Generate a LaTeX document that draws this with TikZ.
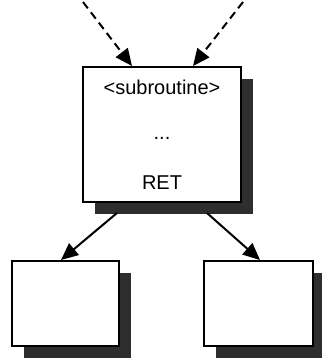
\documentclass[tikz,border=0pt]{standalone}
\usepackage{fontspec}
\setmainfont{Liberation Sans}
\usetikzlibrary{arrows.meta,shadows,calc}
\tikzset{
  box/.style={draw=black, line width=2pt, fill=white, inner sep=0pt,
    drop shadow={shadow xshift=12pt, shadow yshift=-12pt, fill=black!82, opacity=1}},
  lbl/.style={inner sep=0pt, font=\fontsize{20}{23}\selectfont},
  tip/.style={-{Triangle[length=17pt,width=15pt]}},
  call/.style={tip, line width=2pt, dash pattern=on 8pt off 5pt},
  ret/.style={tip, line width=2pt}
}
\begin{document}
\begin{tikzpicture}[x=1pt,y=-1pt]
\useasboundingbox (0,0) rectangle (321,361);
\node[box, minimum width=158pt, minimum height=135pt] (main) at (162,134.5) {};
\node[box, minimum width=107pt, minimum height=85pt] (left) at (65.5,303.5) {};
\node[box, minimum width=109pt, minimum height=85pt] (right) at (258.5,303.5) {};
\node[lbl] (name) at (162,87) {<subroutine>};
\node[lbl] (dots) at (162,138) {...};
\node[lbl] (retl) at (162,183) {RET};
\coordinate (c1) at (83,2);
\coordinate (c2) at (243,2);
\draw[call] (c1) -- ($(main.north)+(-30,0)$);
\draw[call] (c2) -- ($(main.north)+(31,0)$);
\draw[ret] ($(main.south)+(-45,10)$) -- ($(left.north)+(-4.5,0)$);
\draw[ret] ($(main.south)+(45,10)$) -- ($(right.north)+(1.5,0)$);
\end{tikzpicture}
\end{document}
